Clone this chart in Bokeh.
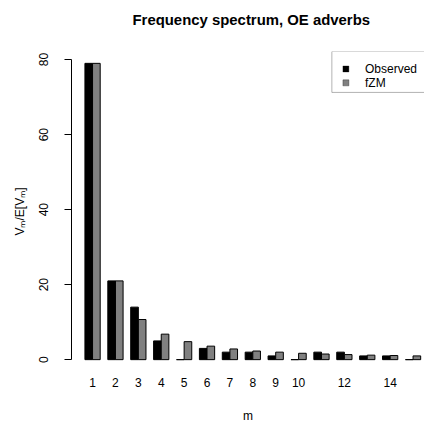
from bokeh.plotting import figure
from bokeh.models import Range1d, FixedTicker, BoxAnnotation, Label
from bokeh.embed import file_html
from bokeh.resources import INLINE

# Frequency classes m and the observed / expected (fZM) spectrum values
m_values = list(range(1, 16))
observed = [79, 21, 14, 5, 0, 3, 2, 2, 1, 0, 2, 2, 1, 1, 0]
fzm = [79, 21, 10.7, 6.8, 4.8, 3.6, 2.85, 2.3, 2.0, 1.7, 1.5, 1.35, 1.2, 1.1, 1.0]
shown_tick_labels = [1, 2, 3, 4, 5, 6, 7, 8, 9, 10, 12, 14]
y_ticks = [0, 20, 40, 60, 80]

series_names = ["Observed", "fZM"]
series_colors = ["#000000", "#808080"]
title_text = "Frequency spectrum, OE adverbs"

FONT = "Liberation Sans"

# grouped bar layout: two bars of width 1 per group, one unit gap between groups
def group_center(m):
    return 3 * m - 1

obs_x = [group_center(m) - 0.5 for m in m_values]
fzm_x = [group_center(m) + 0.5 for m in m_values]

p = figure(
    width=424, height=425,
    output_backend="svg", toolbar_location=None,
    x_range=Range1d(-0.76, 45.5), y_range=Range1d(-3.16, 82.16),
    min_border_left=71, min_border_right=0,
    min_border_top=51, min_border_bottom=54,
    # trailing blank line lifts the title into the upper part of the margin
    title=title_text + "\n",
)
p.outline_line_color = None
p.grid.visible = False
p.background_fill_color = "white"
p.border_fill_color = "white"

p.title.align = "left"
p.title.offset = 61
p.title.text_font = FONT
p.title.text_font_size = "14.9px"
p.title.text_font_style = "bold"
p.title.text_color = "black"
p.title.vertical_align = "top"
p.title.standoff = 12

p.vbar(x=obs_x, top=observed, bottom=0, width=1,
       fill_color=series_colors[0], line_color="black", line_width=1)
p.vbar(x=fzm_x, top=fzm, bottom=0, width=1,
       fill_color=series_colors[1], line_color="black", line_width=1)

# y axis: line limited to the tick span, labels parallel to the axis
ya = p.yaxis[0]
ya.ticker = FixedTicker(ticks=y_ticks)
ya.bounds = (0, 80)
ya.axis_line_color = "black"
ya.major_tick_line_color = "black"
ya.major_tick_out = 7
ya.major_tick_in = 0
ya.minor_tick_line_color = None
ya.major_label_orientation = "vertical"
ya.major_label_standoff = 16
ya.major_label_text_font = FONT
ya.major_label_text_font_size = "12px"
ya.major_label_text_color = "black"
ya.axis_label = "V\u2098/E[V\u2098]"
ya.axis_label_text_font = FONT
ya.axis_label_text_font_size = "12px"
ya.axis_label_text_font_style = "normal"
ya.axis_label_text_color = "black"
ya.axis_label_standoff = 10

# x axis: group labels only, no line or ticks
xa = p.xaxis[0]
xa.ticker = FixedTicker(ticks=[group_center(m) for m in shown_tick_labels])
xa.major_label_overrides = {group_center(m): str(m) for m in shown_tick_labels}
xa.axis_line_color = None
xa.major_tick_line_color = None
xa.minor_tick_line_color = None
xa.major_tick_out = 0
xa.major_tick_in = 0
xa.major_label_standoff = 6
xa.major_label_text_font = FONT
xa.major_label_text_font_size = "12px"
xa.major_label_text_color = "black"
xa.axis_label = "m"
xa.axis_label_text_font = FONT
xa.axis_label_text_font_size = "12px"
xa.axis_label_text_font_style = "normal"
xa.axis_label_text_color = "black"
xa.axis_label_standoff = 19

# legend box in the top-right corner
p.add_layout(BoxAnnotation(left=33.36, right=47.0, top=82.16, bottom=71.25,
                           fill_color=None, line_color="black", line_width=1))
key_x = 35.2
key_half_w = 0.39
key_half_h = 0.8
key_rows = [77.5, 73.8]
for name, color, ky in zip(series_names, series_colors, key_rows):
    p.add_layout(BoxAnnotation(left=key_x - key_half_w, right=key_x + key_half_w,
                               bottom=ky - key_half_h, top=ky + key_half_h,
                               fill_color=color, fill_alpha=1.0,
                               line_color="black", line_width=1))
    p.add_layout(Label(x=37.7, y=ky, text=name, text_baseline="middle",
                       text_align="left", text_font=FONT,
                       text_font_size="12px", text_color="black"))

open("out.html", "w").write(file_html(p, INLINE))
